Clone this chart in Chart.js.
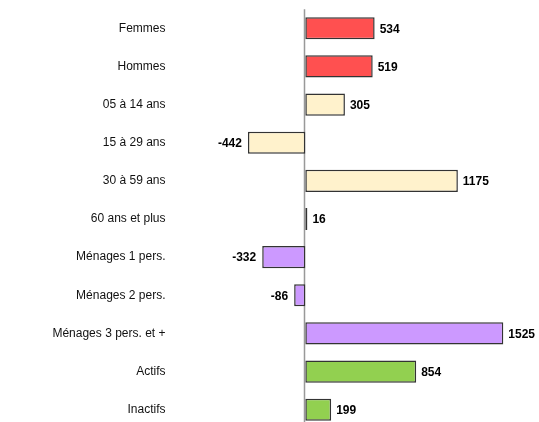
<!DOCTYPE html>
<html>
<head>
<meta charset="utf-8">
<script src="https://cdn.jsdelivr.net/npm/chart.js@4"></script>
<style>
  html, body { margin: 0; padding: 0; background: #fff; overflow: hidden; }
  #wrap { width: 539px; height: 438px; position: relative; }
</style>
</head>
<body>
<div id="wrap"><canvas id="chart"></canvas></div>
<script>
// categories et valeurs
const categories = [
  'Femmes', 'Hommes', '05 à 14 ans', '15 à 29 ans', '30 à 59 ans',
  '60 ans et plus', 'Ménages 1 pers.', 'Ménages 2 pers.',
  'Ménages 3 pers. et +', 'Actifs', 'Inactifs'
];
const valeurs = [534, 519, 305, -442, 1175, 16, -332, -86, 1525, 854, 199];
const couleurs = [
  '#FF5050', '#FF5050', '#FFF2CC', '#FFF2CC', '#FFF2CC', '#FFF2CC',
  '#CC99FF', '#CC99FF', '#CC99FF', '#92D050', '#92D050'
];

// axe vertical au zéro
const axeZero = {
  id: 'axeZero',
  beforeDatasetsDraw(chart) {
    const { ctx, chartArea, scales } = chart;
    const x0 = Math.round(scales.x.getPixelForValue(0)) - 0.5;
    ctx.save();
    ctx.strokeStyle = '#999';
    ctx.lineWidth = 1.5;
    ctx.beginPath();
    ctx.moveTo(x0, chartArea.top);
    ctx.lineTo(x0, chartArea.bottom);
    ctx.stroke();
    ctx.restore();
  }
};

// étiquettes de valeur en bout de barre
const etiquettes = {
  id: 'etiquettes',
  afterDatasetsDraw(chart) {
    const ctx = chart.ctx;
    const meta = chart.getDatasetMeta(0);
    ctx.save();
    ctx.font = 'bold 12px "Liberation Sans", Arial, sans-serif';
    ctx.fillStyle = '#000';
    ctx.textBaseline = 'middle';
    meta.data.forEach((bar, i) => {
      const v = valeurs[i];
      if (v >= 0) {
        ctx.textAlign = 'left';
        ctx.fillText(String(v), bar.x + 5, bar.y + 1);
      } else {
        ctx.textAlign = 'right';
        ctx.fillText(String(v), bar.x - 6, bar.y + 1);
      }
    });
    ctx.restore();
  }
};

new Chart(document.getElementById('chart'), {
  type: 'bar',
  data: {
    labels: categories,
    datasets: [{
      data: valeurs,
      backgroundColor: couleurs,
      borderColor: '#333',
      borderWidth: 1.5,
      borderSkipped: false,
      barPercentage: 0.58,
      categoryPercentage: 1
    }]
  },
  options: {
    indexAxis: 'y',
    responsive: true,
    maintainAspectRatio: false,
    animation: false,
    layout: { padding: { top: 9, bottom: 3, left: 0, right: 0 } },
    plugins: {
      legend: { display: false },
      tooltip: { enabled: false }
    },
    scales: {
      x: {
        display: false,
        min: -1000,
        max: 1800
      },
      y: {
        afterFit(scale) { scale.width = 175.5; },
        ticks: {
          padding: 2,
          color: '#111',
          font: { family: '"Liberation Sans", Arial, sans-serif', size: 12 }
        },
        grid: { display: false },
        border: { display: false }
      }
    }
  },
  plugins: [axeZero, etiquettes]
});
</script>
</body>
</html>
